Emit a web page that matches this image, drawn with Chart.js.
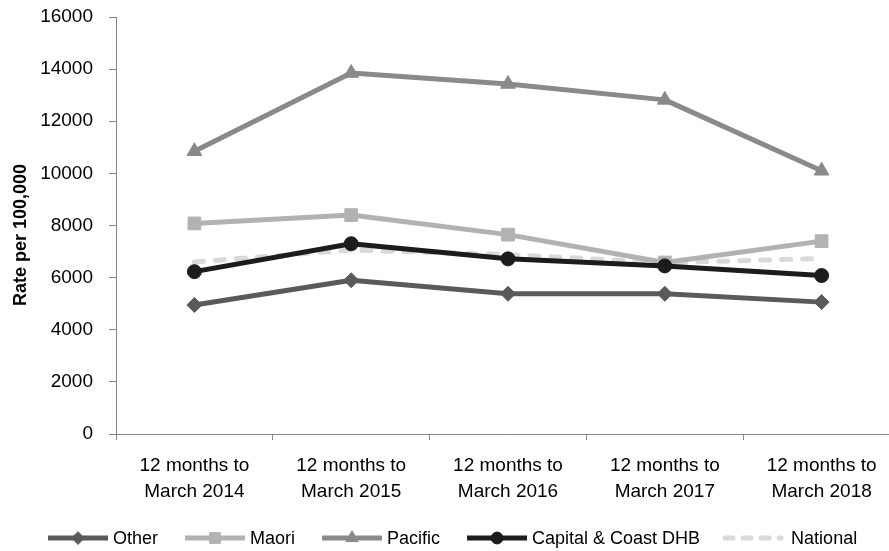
<!DOCTYPE html>
<html>
<head>
<meta charset="utf-8">
<script src="https://cdn.jsdelivr.net/npm/chart.js@4/dist/chart.umd.min.js"></script>
<style>
  html, body { margin: 0; padding: 0; background: #fff; overflow: hidden; }
  #wrap { width: 889px; height: 551px; overflow: hidden; position: relative; }
  #wrap canvas { position: absolute; left: 0; top: 0; }
</style>
</head>
<body>
<div id="wrap"><canvas id="c" width="910" height="551"></canvas></div>
<script>
// Periods on the x axis (two lines each)
const categories = [
  ["12 months to", "March 2014"],
  ["12 months to", "March 2015"],
  ["12 months to", "March 2016"],
  ["12 months to", "March 2017"],
  ["12 months to", "March 2018"]
];

// Rate per 100,000 by group
const other    = [4950, 5900, 5380, 5380, 5060];
const maori    = [8080, 8400, 7650, 6580, 7400];
const pacific  = [10850, 13850, 13430, 12820, 10100];
const ccdhb    = [6230, 7300, 6720, 6450, 6080];
const national = [6600, 7060, 6880, 6580, 6730];

const yTicks = [0, 2000, 4000, 6000, 8000, 10000, 12000, 14000, 16000];
const yTitle = "Rate per 100,000";

const FONT = "'Liberation Sans', Arial, sans-serif";
const AXIS = '#868686';

const series = [
  { label: 'Other', data: other, color: '#5a5a5a', style: 'rectRot', radius: 7.5 },
  { label: 'Maori', data: maori, color: '#b2b2b2', style: 'rect', radius: 9 },
  { label: 'Pacific', data: pacific, color: '#8a8a8a', style: 'triangle', radius: 8.5 },
  { label: 'Capital & Coast DHB', data: ccdhb, color: '#1c1c1c', style: 'circle', radius: 7 },
  { label: 'National', data: national, color: '#d9d9d9', style: false, radius: 0, dash: [9, 12] }
];

const datasets = series.map(s => ({
  label: s.label,
  data: s.data,
  borderColor: s.color,
  backgroundColor: s.color,
  borderWidth: 5,
  borderDash: s.dash || [],
  borderCapStyle: s.dash ? 'round' : 'butt',
  borderJoinStyle: 'round',
  pointStyle: s.style,
  pointRadius: s.radius,
  pointHoverRadius: s.radius,
  pointBorderWidth: 1,
  pointBorderColor: s.color,
  pointBackgroundColor: s.color,
  tension: 0,
  fill: false
}));

// Draw order: National underneath the DHB line
datasets[4].order = 3;
datasets[3].order = 1;
datasets[0].order = 2;
datasets[1].order = 2;
datasets[2].order = 2;

// Legend row: line sample with a marker in the middle, then the label
const legendPlugin = {
  id: 'lineLegend',
  afterDraw(chart) {
    const ctx = chart.ctx;
    ctx.save();
    ctx.font = '18px ' + FONT;
    ctx.textBaseline = 'middle';
    const y = 538;
    let x = 48;
    series.forEach(s => {
      const x0 = x, x1 = x + 60;
      ctx.strokeStyle = s.color;
      ctx.lineWidth = 5;
      let textX;
      if (s.dash) {
        ctx.setLineDash([8, 10]);
        ctx.lineCap = 'round';
        ctx.beginPath(); ctx.moveTo(x0 - 2, y); ctx.lineTo(x1 - 6, y); ctx.stroke();
        ctx.setLineDash([]);
        ctx.lineCap = 'butt';
        textX = x1 + 4;
      } else {
        ctx.beginPath(); ctx.moveTo(x0, y); ctx.lineTo(x1, y); ctx.stroke();
        ctx.fillStyle = s.color;
        ctx.strokeStyle = s.color;
        ctx.lineWidth = 1;
        Chart.helpers.drawPoint(ctx, { pointStyle: s.style, radius: s.radius * 0.85, borderWidth: 1 }, (x0 + x1) / 2, y);
        textX = x1 + 5;
      }
      ctx.fillStyle = '#000';
      ctx.fillText(s.label, textX, y + 1);
      x = textX + ctx.measureText(s.label).width + 27;
    });
    ctx.restore();
  }
};

// Rotated y-axis title
const yTitlePlugin = {
  id: 'yTitle',
  afterDraw(chart) {
    const ctx = chart.ctx;
    ctx.save();
    ctx.translate(21, 235);
    ctx.rotate(-Math.PI / 2);
    ctx.font = 'bold 18px ' + FONT;
    ctx.fillStyle = '#000';
    ctx.textAlign = 'center';
    ctx.textBaseline = 'middle';
    ctx.fillText(yTitle, 0, 0);
    ctx.restore();
  }
};

new Chart(document.getElementById('c'), {
  type: 'line',
  data: { labels: categories, datasets },
  options: {
    responsive: false,
    animation: false,
    events: [],
    layout: { padding: { left: 0, right: 9, top: 17, bottom: 37 } },
    plugins: {
      legend: { display: false },
      tooltip: { enabled: false }
    },
    scales: {
      x: {
        type: 'category',
        offset: true,
        grid: {
          offset: true,
          drawOnChartArea: false,
          drawTicks: true,
          tickLength: 6,
          color: AXIS,
          lineWidth: 1
        },
        border: { color: AXIS, width: 1 },
        ticks: {
          color: '#000',
          font: { family: FONT, size: 19, lineHeight: 1.4 },
          padding: 12,
          maxRotation: 0,
          autoSkip: false
        },
        afterFit(scale) {
          scale.height = 80;
          scale.paddingLeft = 0;
          scale.paddingRight = 0;
        }
      },
      y: {
        min: 0,
        max: 16000,
        afterBuildTicks(scale) { scale.ticks = yTicks.map(v => ({ value: v })); },
        grid: {
          drawOnChartArea: false,
          drawTicks: true,
          tickLength: 7,
          color: AXIS,
          lineWidth: 1
        },
        border: { color: AXIS, width: 1 },
        ticks: {
          color: '#000',
          font: { family: FONT, size: 19 },
          padding: 16,
          callback: v => String(v)
        },
        afterFit(scale) {
          scale.width = 116;
          scale.paddingTop = 0;
          scale.paddingBottom = 0;
        }
      }
    }
  },
  plugins: [legendPlugin, yTitlePlugin]
});
</script>
</body>
</html>
